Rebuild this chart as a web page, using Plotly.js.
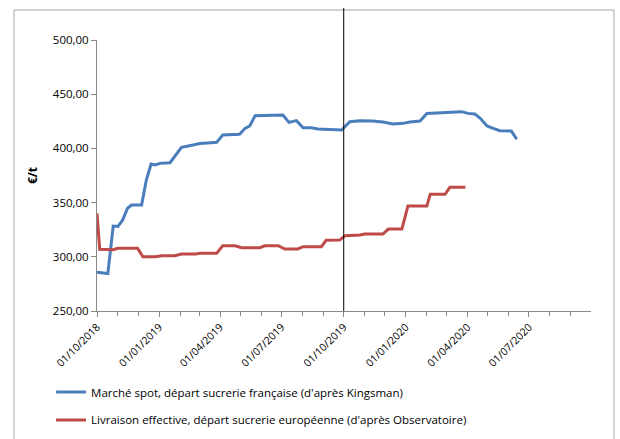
<!DOCTYPE html>
<html><head><meta charset="utf-8">
<script src="https://cdn.plot.ly/plotly-3.0.1.min.js"></script>
<style>html,body{margin:0;padding:0;background:#fff}#chart{width:620px;height:439px}</style>
</head><body><div id="chart"></div>
<script>
const spotName = "Marché spot, départ sucrerie française (d'après Kingsman)";
const spotDates = ["2018-10-01","2018-10-17","2018-10-25","2018-11-01","2018-11-08","2018-11-15","2018-11-21","2018-12-06","2018-12-13","2018-12-20","2018-12-26","2019-01-02","2019-01-17","2019-01-24","2019-02-03","2019-02-15","2019-03-02","2019-03-14","2019-03-27","2019-04-05","2019-04-30","2019-05-08","2019-05-15","2019-05-23","2019-07-03","2019-07-12","2019-07-23","2019-08-02","2019-08-14","2019-08-24","2019-09-10","2019-09-28","2019-10-10","2019-10-25","2019-11-13","2019-11-28","2019-12-13","2019-12-28","2020-01-07","2020-01-22","2020-02-01","2020-02-20","2020-03-11","2020-03-23","2020-04-02","2020-04-12","2020-04-20","2020-04-30","2020-05-09","2020-05-19","2020-06-05","2020-06-13"];
const spotValues = [285.7,284.5,328.4,328,334,344.7,347.8,347.8,370.8,385.6,384.7,386.2,386.8,392.4,401,402.5,404.5,405,405.6,412.4,413,418.5,420.7,430.2,430.8,424,425.6,419,419,417.9,417.6,417,424.6,425.6,425.3,424.4,422.5,423.1,424.4,425.3,432.3,432.9,433,433.9,432.3,431.7,427.8,420.7,418.5,416.3,416,408.4];

const effName = "Livraison effective, départ sucrerie européenne (d'après Observatoire)";
const effDates = ["2018-10-01","2018-10-05","2018-10-25","2018-11-01","2018-11-30","2018-12-08","2018-12-26","2019-01-05","2019-01-24","2019-02-03","2019-02-25","2019-03-02","2019-03-27","2019-04-05","2019-04-23","2019-05-03","2019-05-30","2019-06-06","2019-06-26","2019-07-06","2019-07-25","2019-08-02","2019-08-29","2019-09-05","2019-09-25","2019-10-03","2019-10-25","2019-11-01","2019-11-28","2019-12-06","2019-12-26","2020-01-04","2020-02-01","2020-02-06","2020-02-28","2020-03-06","2020-03-29"];
const effValues = [340,307,306.5,307.8,307.8,300,300,301,301,302.6,302.6,303.2,303.2,310.2,310.2,308.4,308.4,310.2,310.2,307.2,307.2,309.3,309.3,315.2,315.4,319.5,320.1,321,321,325.6,325.6,346.8,346.8,357.7,357.7,364.1,364.1];

const yTitle = "€/t";
const markerDate = "2019-10-01";

const font = "Open Sans, Liberation Sans, sans-serif";
const data = [
  {x: spotDates, y: spotValues, name: spotName, type: 'scatter', mode: 'lines',
   line: {color: '#4a7ebb', width: 3}, legend: 'legend'},
  {x: effDates, y: effValues, name: effName, type: 'scatter', mode: 'lines',
   line: {color: '#be4b48', width: 3}, legend: 'legend2'}
];
const legStyle = {orientation: 'v', xanchor: 'left', yanchor: 'middle', bgcolor: 'rgba(0,0,0,0)',
  font: {family: font, size: 11.5, color: '#000'}, itemwidth: 30};
const layout = {
  width: 620, height: 439,
  margin: {l: 97, r: 29, t: 40, b: 128, autoexpand: false},
  paper_bgcolor: '#fff', plot_bgcolor: '#fff',
  separators: ', ',
  showlegend: true,
  font: {family: font, color: '#000'},
  xaxis: {
    type: 'date', range: ['2018-10-01', '2020-09-30 20:00'],
    tick0: '2018-10-01', dtick: 'M3', tickformat: '%d/%m/%Y', tickangle: -45,
    ticks: 'outside', ticklen: 5, tickcolor: '#888', tickwidth: 1,
    showline: true, linecolor: '#888', linewidth: 1, showgrid: false, zeroline: false,
    tickfont: {family: font, size: 10.5, color: '#000'},
    minor: {dtick: 'M1', tick0: '2018-10-01', ticks: 'outside', ticklen: 4, tickcolor: '#888', showgrid: false}
  },
  yaxis: {
    range: [250, 500], dtick: 50, tick0: 250, tickformat: '.2f',
    ticks: 'outside', ticklen: 5, tickcolor: '#888',
    showline: true, linecolor: '#888', linewidth: 1, showgrid: false, zeroline: false,
    tickfont: {family: font, size: 11.5, color: '#000'},
    title: {text: yTitle, standoff: 12, font: {family: font, size: 12, color: '#000', weight: 'bold'}}
  },
  legend: Object.assign({}, legStyle, {x: -0.093, y: -0.299}),
  legend2: Object.assign({}, legStyle, {x: -0.093, y: -0.402}),
  shapes: [
    {type: 'rect', xref: 'paper', yref: 'paper', x0: -0.168, x1: 1.0466, y0: -0.6, y1: 1.1107,
     line: {color: '#a6a6a6', width: 1}, fillcolor: 'rgba(0,0,0,0)', layer: 'below'},
    {type: 'line', xref: 'x', yref: 'paper', x0: markerDate, x1: markerDate, y0: 0, y1: 1.118,
     line: {color: '#000', width: 1}}
  ]
};
Plotly.newPlot('chart', data, layout, {displayModeBar: false, staticPlot: true});
</script></body></html>
